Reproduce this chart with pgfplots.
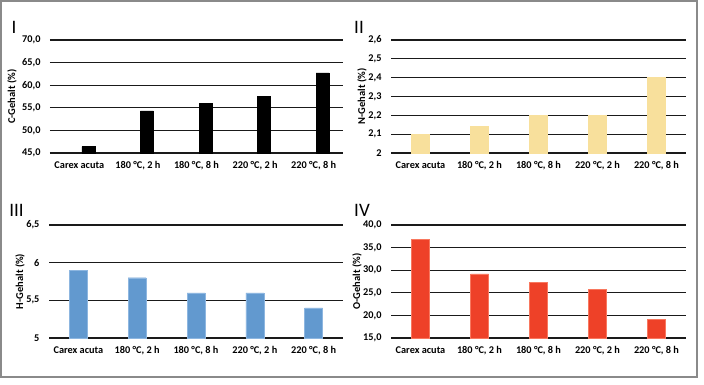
\documentclass[border=0pt]{standalone}
\usepackage{pgfplots}
\pgfplotsset{compat=1.18}
\usepackage{fontspec}
\setmainfont{Carlito}
\definecolor{gridc}{HTML}{1A1A1A}
\definecolor{frame}{HTML}{8A8A8A}
\definecolor{yel}{HTML}{F8E09C}
\definecolor{blu}{HTML}{6299CF}
\definecolor{blub}{HTML}{8DB6E0}
\definecolor{red}{HTML}{EE4128}
\definecolor{redb}{HTML}{F8785F}
\pgfplotsset{
  panel/.style={
    scale only axis,
    height=113pt,
    xmin=-0.5, xmax=4.5,
    xtick={0,1,2,3,4},
    xticklabels={Carex acuta,{180 °C, 2 h},{180 °C, 8 h},{220 °C, 2 h},{220 °C, 8 h}},
    axis line style={draw=none},
    major tick length=0pt,
    ymajorgrids,
    grid style={gridc, line width=1.1pt},
    /pgf/number format/assume math mode=true,
    /pgf/number format/use comma,
    ticklabel style={font=\fontsize{10.3}{12}\selectfont\bfseries},
    xticklabel style={yshift=-5pt},
    yticklabel style={xshift=-6pt},
    every axis y label/.style={at={(axis description cs:0,0.5)}, rotate=90, anchor=center, font=\fontsize{10.5}{12}\selectfont\bfseries},
    ybar, bar width=18pt,
  },
  fix1/.style={yticklabel style={/pgf/number format/.cd, fixed, fixed zerofill, precision=1}},
}
\begin{document}
\begin{tikzpicture}[x=1pt,y=1pt]
\path (0,0) rectangle (704,384);
\draw[frame, line width=1.4pt] (0.9,383.1) rectangle (697,7);
% Panel I
\begin{axis}[panel, at={(50pt,231pt)}, anchor=south west, width=293pt,
  ymin=45, ymax=70, ytick={45,50,55,60,65,70}, fix1,
  ylabel={C-Gehalt (\%)}, ylabel style={yshift=38pt}, bar width=13pt, bar shift=9pt]
\addplot[fill=black, draw=black] coordinates {(0,46.4) (1,54.3) (2,56.0) (3,57.6) (4,62.7)};
\end{axis}
% Panel II
\begin{axis}[panel, at={(391pt,231pt)}, anchor=south west, width=295pt,
  ymin=2, ymax=2.6, ytick={2,2.1,2.2,2.3,2.4,2.5,2.6},
  ylabel={N-Gehalt (\%)}, ylabel style={yshift=29pt}]
\addplot[fill=yel, draw=yel] coordinates {(0,2.10) (1,2.14) (2,2.20) (3,2.20) (4,2.40)};
\end{axis}
% Panel III
\begin{axis}[panel, at={(49pt,46pt)}, anchor=south west, width=294pt,
  ymin=5, ymax=6.5, ytick={5,5.5,6,6.5},
  ylabel={H-Gehalt (\%)}, ylabel style={yshift=29pt}]
\addplot[fill=blu, draw=blub] coordinates {(0,5.9) (1,5.8) (2,5.6) (3,5.6) (4,5.4)};
\end{axis}
% Panel IV
\begin{axis}[panel, at={(391pt,46pt)}, anchor=south west, width=295pt,
  ymin=15, ymax=40, ytick={15,20,25,30,35,40}, fix1,
  ylabel={O-Gehalt (\%)}, ylabel style={yshift=34pt}]
\addplot[fill=red, draw=redb] coordinates {(0,36.9) (1,29.2) (2,27.3) (3,25.8) (4,19.1)};
\end{axis}
\node[font=\fontsize{19}{21}\selectfont] at (14,357) {I};
\node[font=\fontsize{19}{21}\selectfont] at (359,357) {II};
\node[font=\fontsize{19}{21}\selectfont] at (16.5,173.5) {III};
\node[font=\fontsize{19}{21}\selectfont] at (362,173.5) {IV};
\end{tikzpicture}
\end{document}
